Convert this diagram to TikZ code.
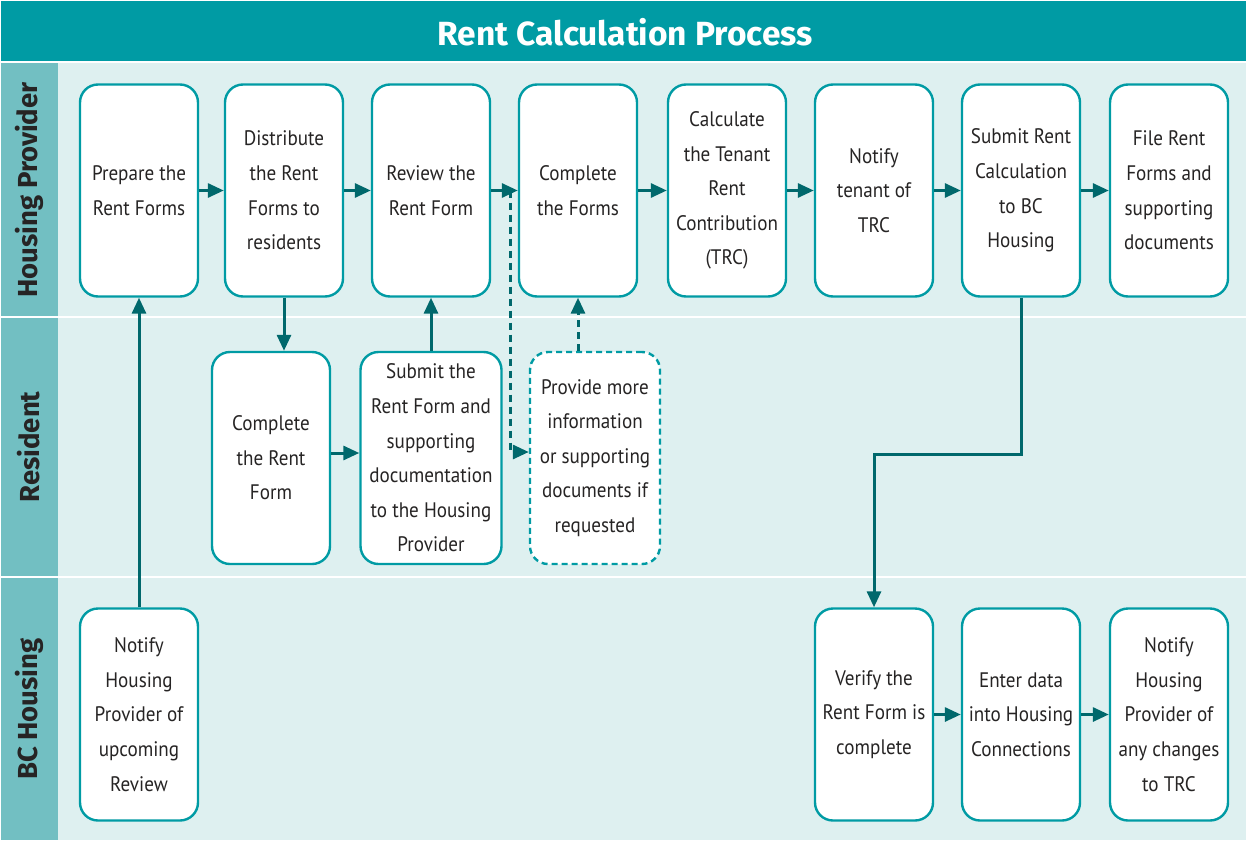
\documentclass[tikz,border=0pt]{standalone}
\usepackage{fontspec}
\setmainfont{PT Sans}[FakeStretch=0.91]
\newfontfamily\headfont{Fira Sans}
\usetikzlibrary{arrows.meta,calc}
\definecolor{rcpteal}{RGB}{0,155,164}
\definecolor{rcplane}{RGB}{114,191,194}
\definecolor{rcpbg}{RGB}{222,240,240}
\definecolor{rcparrow}{RGB}{0,104,108}
\definecolor{rcptext}{RGB}{38,36,36}
\tikzset{
  task/.style={draw=rcpteal, fill=white, line width=2.4pt, rounded corners=18pt,
    minimum width=118pt, minimum height=212pt, align=center, text=rcptext,
    font=\fontsize{21}{34.6}\selectfont, inner sep=2pt},
  optional/.style={task, dashed, dash pattern=on 6pt off 4pt},
  flow/.style={draw=rcparrow, line width=3pt, -{Triangle[length=16pt,width=14pt]}},
  maybe/.style={flow, dash pattern=on 7pt off 5pt},
  lanelabel/.style={rotate=90, text=rcptext, font=\headfont\bfseries\fontsize{27.5}{30}\selectfont}
}

\begin{document}
\begin{tikzpicture}[x=1pt,y=-1pt]
			\useasboundingbox (0,0) rectangle (1246,840);
			\fill[white] (0,0) rectangle (1246,840);
			
			%%%%% TITLE AND LANES %%%%%
			\fill[rcpteal] (1,1) rectangle (1246,61);
			\node[text=white, font=\headfont\bfseries\fontsize{33.5}{36}\selectfont] (title) at (625,32) {Rent Calculation Process};
			
			\fill[rcpbg] (58,63) rectangle (1246,316);
			\fill[rcpbg] (58,318) rectangle (1246,576);
			\fill[rcpbg] (58,578) rectangle (1246,840);
			\fill[rcplane] (1,63) rectangle (58,316);
			\fill[rcplane] (1,318) rectangle (58,576);
			\fill[rcplane] (1,578) rectangle (58,840);
			\node[lanelabel] (laneHP) at (29,190) {Housing Provider};
			\node[lanelabel] (laneRes) at (29,447) {Resident};
			\node[lanelabel] (laneBC) at (29,709) {BC Housing};
			
			%%%%% HOUSING PROVIDER %%%%%
			\node[task] (prepare) at (139,190.5) {Prepare the\\Rent Forms};
			\node[task] (distribute) at (284,190.5) {Distribute\\the Rent\\Forms to\\residents};
			\node[task] (review) at (431,190.5) {Review the\\Rent Form};
			\node[task] (forms) at (578,190.5) {Complete\\the Forms};
			\node[task] (calc) at (727,190.5) {Calculate\\the Tenant\\Rent\\Contribution\\(TRC)};
			\node[task] (tenant) at (874,190.5) {Notify\\tenant of\\TRC};
			\node[task] (submitcalc) at (1021,190.5) {Submit Rent\\Calculation\\to BC\\Housing};
			\node[task] (file) at (1169,190.5) {File Rent\\Forms and\\supporting\\documents};
			
			%%%%% RESIDENT %%%%%
			\node[task] (rentform) at (271,458) {Complete\\the Rent\\Form};
			\node[task, minimum width=141pt] (submitform) at (431,458) {Submit the\\Rent Form and\\supporting\\documentation\\to the Housing\\Provider};
			\node[optional, minimum width=130pt] (moreinfo) at (595,458) {Provide more\\information\\or supporting\\documents if\\requested};
			
			%%%%% BC HOUSING %%%%%
			\node[task] (upcoming) at (139,714.5) {Notify\\Housing\\Provider of\\upcoming\\Review};
			\node[task] (verify) at (874,714.5) {Verify the\\Rent Form is\\complete};
			\node[task] (enter) at (1021,714.5) {Enter data\\into Housing\\Connections};
			\node[task] (changes) at (1169,714.5) {Notify\\Housing\\Provider of\\any changes\\to TRC};
			
			%%%%% ARROWS %%%%%
			\draw[flow] (prepare) -- (distribute);
			\draw[flow] (distribute) -- (review);
			\draw[flow] (review) -- (forms);
			\draw[flow] (forms) -- (calc);
			\draw[flow] (calc) -- (tenant);
			\draw[flow] (tenant) -- (submitcalc);
			\draw[flow] (submitcalc) -- (file);
			
			\draw[flow] (upcoming.north) -- (prepare.south);
			\draw[flow] (distribute.south) -- (distribute.south |- rentform.north);
			\draw[flow] (rentform.east |- 0,453) -- (submitform.west |- 0,453);
			\draw[flow] (submitform.north) -- (review.south);
			
			\coordinate (branch) at ($(review.east)!0.72!(forms.west)$);
			\draw[maybe] (branch) |- (moreinfo.west |- 0,452);
			\draw[maybe] (forms.south |- moreinfo.north) -- (forms.south);
			
			\draw[flow, rounded corners=0pt] (submitcalc.south) -- ++(0,157) -| (verify.north);
			\draw[flow] (verify) -- (enter);
			\draw[flow] (enter) -- (changes);
			
		\end{tikzpicture}
\end{document}
